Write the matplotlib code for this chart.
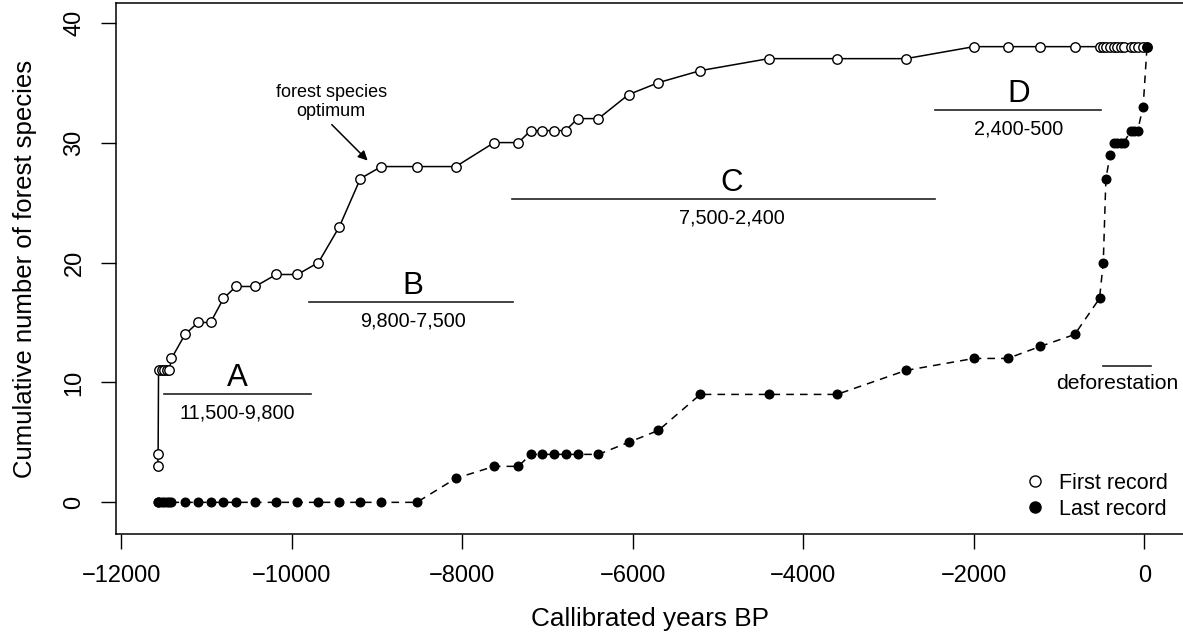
import matplotlib
matplotlib.use("Agg")
import matplotlib.pyplot as plt
from matplotlib.lines import Line2D

plt.rcParams['font.family'] = ['Liberation Sans', 'DejaVu Sans']

# ---- data ----
years = [-11575, -11570, -11565, -11530, -11500, -11470, -11440, -11413,
         -11255, -11102, -10955, -10803, -10657, -10431, -10185, -9935,
         -9689, -9443, -9197, -8952, -8535, -8078, -7628, -7344, -7200,
         -7063, -6926, -6790, -6650, -6405, -6052, -5701, -5210, -4409,
         -3607, -2798, -2000, -1605, -1223, -818, -527, -483, -452, -402,
         -360, -320, -280, -240, -160, -120, -80, -15, 30]
first_record = [3, 4, 11, 11, 11, 11, 11, 12,
                14, 15, 15, 17, 18, 18, 19, 19,
                20, 23, 27, 28, 28, 28, 30, 30, 31,
                31, 31, 31, 32, 32, 34, 35, 36, 37,
                37, 37, 38, 38, 38, 38, 38, 38, 38, 38,
                38, 38, 38, 38, 38, 38, 38, 38, 38]
last_record = [0, 0, 0, 0, 0, 0, 0, 0,
               0, 0, 0, 0, 0, 0, 0, 0,
               0, 0, 0, 0, 0, 2, 3, 3, 4,
               4, 4, 4, 4, 4, 5, 6, 9, 9,
               9, 11, 12, 12, 13, 14, 17, 20, 27, 29,
               30, 30, 30, 30, 31, 31, 31, 33, 38]

period_names = ["A", "B", "C", "D"]
period_ranges = ["11,500-9,800", "9,800-7,500", "7,500-2,400", "2,400-500"]
period_start = [-11500, -9800, -7414, -2462]
period_end = [-9780, -7406, -2462, -511]
period_level = [9.0, 16.67, 25.3, 32.7]
period_label_x = [-10640, -8580, -4840, -1480]

defor_start, defor_end, defor_level = -487, 75, 11.33

# ---- figure ----
W, H = 1183, 641
fig = plt.figure(figsize=(W / 100, H / 100), dpi=100)
ax = fig.add_axes([116 / W, 1 - 534 / H, 1068 / W, 531 / H])

ax.plot(years, first_record, '-', color='black', lw=1.1, marker='o',
        ms=6.8, mfc='white', mec='black', mew=1.0, zorder=3)
ax.plot(years, last_record, color='black', lw=1.1, ls=(0, (5, 4)),
        marker='o', ms=6.2, mfc='black', mec='black', zorder=3)

for name, rng, x0, x1, lvl, lx in zip(period_names, period_ranges, period_start,
                                      period_end, period_level, period_label_x):
    ax.plot([x0, x1], [lvl, lvl], color='#222222', lw=1.2)
    ax.text(lx, lvl + 1.35, name, ha='center', va='center', fontsize=22.5)
    ax.text(lx, lvl - 1.58, rng, ha='center', va='center', fontsize=14.3)

ax.plot([defor_start, defor_end], [defor_level, defor_level], color='#222222', lw=1.2)
ax.text(-322, defor_level - 1.44, "deforestation", ha='center', va='center', fontsize=15.2)

ax.text(-9540, 33.4, "forest species\noptimum", ha='center', va='center',
        fontsize=13.0, linespacing=1.2)
ax.annotate("", xy=(-9112, 28.5), xytext=(-9533, 31.5),
            arrowprops=dict(arrowstyle='-|>', color='black', lw=1.1,
                            mutation_scale=14, shrinkA=0, shrinkB=0))

ax.set_xlim(-12064, 464)
ax.set_ylim(-2.64, 41.64)
ax.set_xticks(range(-12000, 1, 2000))
ax.set_yticks(range(0, 41, 10))
ax.tick_params(direction='out', length=11, width=1.0, labelsize=17, pad=11)
for lab in ax.get_yticklabels():
    lab.set_rotation(90)
    lab.set_va('center')
for s in ax.spines.values():
    s.set_linewidth(1.1)

ax.set_xlabel("Callibrated years BP", fontsize=18.8, labelpad=15)
ax.set_ylabel("Cumulative number of forest species", fontsize=18.5, labelpad=19)

handles = [Line2D([], [], ls='none', marker='o', ms=8, mfc='white', mec='black', mew=1.0),
           Line2D([], [], ls='none', marker='o', ms=8, mfc='black', mec='black')]
ax.legend(handles, ["First record", "Last record"], loc='lower right',
          bbox_to_anchor=(1 - (1184 - 1168) / 1068, (534 - 520) / 531),
          frameon=False, fontsize=15.5, handlelength=0.8, handletextpad=0.7,
          labelspacing=0.25, borderaxespad=0, borderpad=0)

fig.savefig("out.png", dpi=100)
